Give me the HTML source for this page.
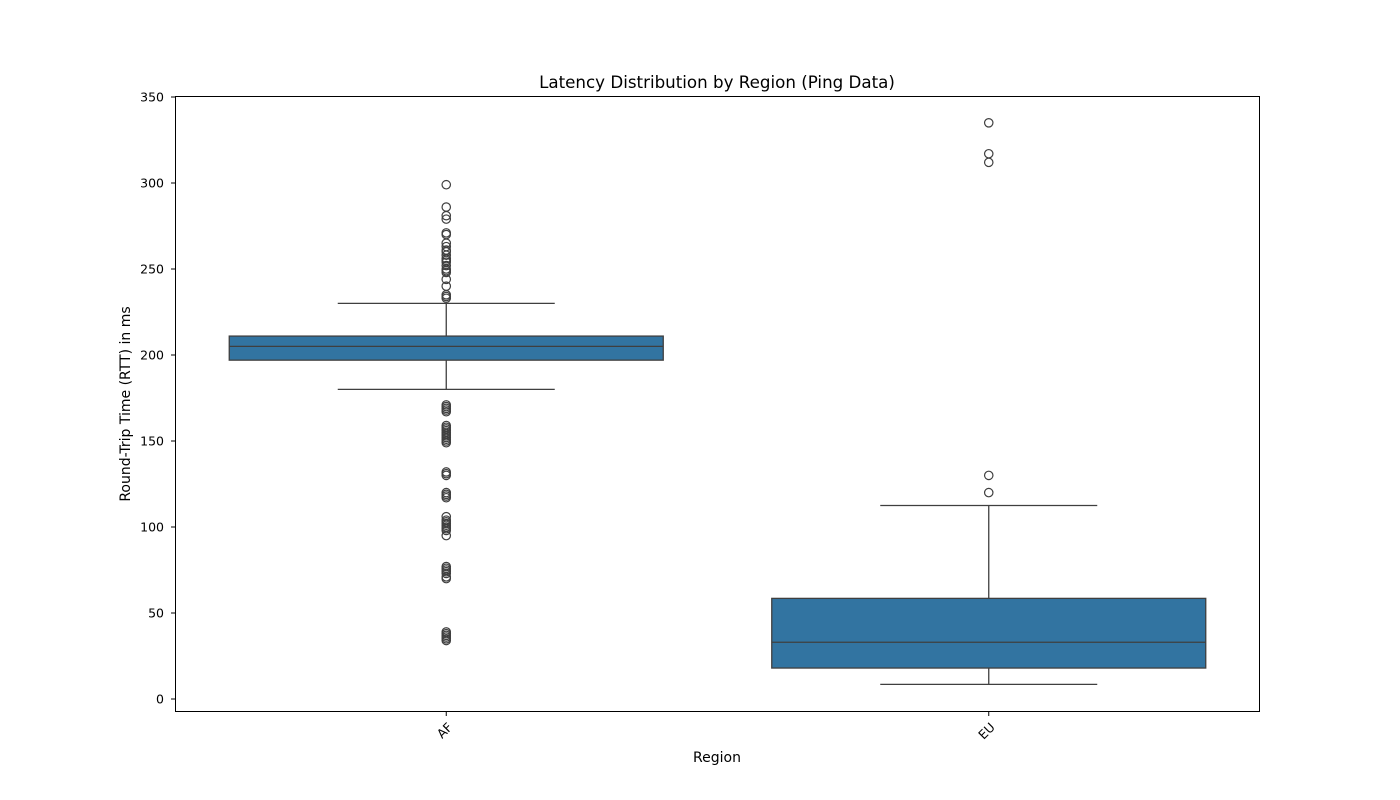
<!DOCTYPE html>
<html><head><meta charset="utf-8">
<style>
html,body{margin:0;padding:0;background:#fff;}
svg{display:block;font-family:"DejaVu Sans","Liberation Sans",sans-serif;}
</style></head>
<body>
<svg id="chart" width="1400" height="800" xmlns="http://www.w3.org/2000/svg">
<rect width="1400" height="800" fill="#fff"/>
<text x="717" y="88" text-anchor="middle" font-size="16.7" fill="#000">Latency Distribution by Region (Ping Data)</text>
<text x="717" y="762" text-anchor="middle" font-size="14" fill="#000">Region</text>
<text transform="translate(130,404) rotate(-90)" text-anchor="middle" font-size="14" fill="#000">Round-Trip Time (RTT) in ms</text>
<g id="marks"></g>
<rect x="175.5" y="96.5" width="1084" height="615" fill="none" stroke="#000" stroke-width="1"/>
</svg>
<script>
const categories = ["AF", "EU"];
const q1 = [197, 18];
const medians = [205, 33];
const q3 = [211, 58.5];
const whiskerLow = [180, 8.5];
const whiskerHigh = [230, 112.5];
const outliersAF = [299, 286, 281, 279, 271, 270, 265, 263, 261, 260, 258, 256, 255, 254, 252, 250, 249, 248, 244, 240, 235, 234, 233,
  171, 170, 169, 168, 167, 159, 158, 157, 156, 155, 154, 153, 152, 151, 150, 149, 132, 131, 130, 120, 119, 118, 117,
  106, 104, 103, 102, 101, 100, 99, 98, 95, 77, 76, 75, 74, 73, 71, 70, 39, 38, 37, 36, 35, 34];
const outliersEU = [335, 317, 312, 130, 120];
const outliers = [outliersAF, outliersEU];
const yTicks = [0, 50, 100, 150, 200, 250, 300, 350];

const plotL = 175, plotR = 1260;
const band = (plotR - plotL) / categories.length;
function xScale(i){ return plotL + band * (i + 0.5); }
function yScale(v){ return 699 - v * 1.72; }

const NS = "http://www.w3.org/2000/svg";
const g = document.getElementById("marks");
function mk(tag, attrs){
  const e = document.createElementNS(NS, tag);
  for (const k in attrs) e.setAttribute(k, attrs[k]);
  g.appendChild(e);
  return e;
}

yTicks.forEach(t => {
  const y = yScale(t);
  const tk = mk("line", {x1:171, x2:175, y1:y, y2:y, stroke:"#000", "stroke-width":1});
  
  
  const lb = mk("text", {x:164, y:y+4.5, "text-anchor":"end", "font-size":12.5, fill:"#000"});
  lb.textContent = t;
  
  
});

categories.forEach((c, i) => {
  const cx = xScale(i);
  const boxW = band * 0.8, capW = boxW / 2;
  const tk = mk("line", {x1:cx, x2:cx, y1:712, y2:716, stroke:"#000", "stroke-width":1});
  
  
  const lb = mk("text", {transform:`translate(${cx+7},${728}) rotate(-45)`, "text-anchor":"end", "font-size":12.5, fill:"#000"});
  lb.textContent = c;
  
  

  const wl = mk("line", {x1:cx, x2:cx, y1:yScale(q1[i]), y2:yScale(whiskerLow[i]), stroke:"#3f3f3f", "stroke-width":1.3});
  
  
  const wh = mk("line", {x1:cx, x2:cx, y1:yScale(q3[i]), y2:yScale(whiskerHigh[i]), stroke:"#3f3f3f", "stroke-width":1.3});
  
  
  const cl = mk("line", {x1:cx-capW/2, x2:cx+capW/2, y1:yScale(whiskerLow[i]), y2:yScale(whiskerLow[i]), stroke:"#3f3f3f", "stroke-width":1.3});
  
  
  const ch = mk("line", {x1:cx-capW/2, x2:cx+capW/2, y1:yScale(whiskerHigh[i]), y2:yScale(whiskerHigh[i]), stroke:"#3f3f3f", "stroke-width":1.3});
  
  

  const bx = mk("rect", {x:cx-boxW/2, y:yScale(q3[i]), width:boxW, height:yScale(q1[i])-yScale(q3[i]), fill:"#3274a1", stroke:"#3f3f3f", "stroke-width":1.3});
  
  
  const md = mk("line", {x1:cx-boxW/2, x2:cx+boxW/2, y1:yScale(medians[i]), y2:yScale(medians[i]), stroke:"#3f3f3f", "stroke-width":1.3});
  
  

  outliers[i].forEach(v => {
    const o = mk("circle", {cx:cx, cy:yScale(v), r:4.2, fill:"none", stroke:"#3f3f3f", "stroke-width":1.2});
    
    
  });
});
</script>
</body></html>
